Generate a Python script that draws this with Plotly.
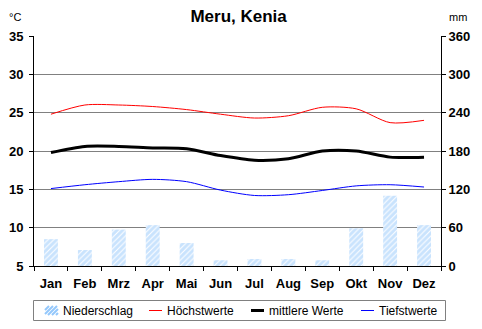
import plotly.graph_objects as go

# Monthly climate data for Meru, Kenya
months = ["Jan", "Feb", "Mrz", "Apr", "Mai", "Jun", "Jul", "Aug", "Sep", "Okt", "Nov", "Dez"]
niederschlag = [42, 25, 57, 64, 36, 9, 11, 11, 9, 59, 110, 64]          # mm
hoechstwerte = [24.8, 26.0, 26.0, 25.8, 25.4, 24.8, 24.3, 24.6, 25.7, 25.5, 23.7, 24.0]
mittlere = [19.8, 20.6, 20.6, 20.4, 20.3, 19.4, 18.8, 19.0, 20.0, 20.0, 19.2, 19.2]
tiefstwerte = [15.1, 15.6, 16.0, 16.3, 16.0, 14.9, 14.2, 14.3, 14.85, 15.45, 15.6, 15.3]

temp_ticks = [5, 10, 15, 20, 25, 30, 35]
rain_ticks = [0, 60, 120, 180, 240, 300, 360]

FONT = "Liberation Sans, Arial, sans-serif"
HATCH = "#94c8fc"

W, H = 482, 329
ML, MR, MT, MB = 34, 41, 36, 63
PW, PH = W - ML - MR, H - MT - MB


def px(x):
    """Horizontal pixel position -> paper coordinate."""
    return (x - ML) / PW


def py(y):
    """Vertical pixel position (from top) -> paper coordinate."""
    return (H - MB - y) / PH


fig = go.Figure()

fig.add_trace(go.Bar(
    x=months, y=niederschlag, name="Niederschlag", yaxis="y2",
    width=0.41,
    marker=dict(color="white", line=dict(width=0),
                pattern=dict(shape="/", fgcolor=HATCH, bgcolor="white",
                             size=4, solidity=0.75)),
))

series = [
    ("Höchstwerte", hoechstwerte, "#ff0000", 1),
    ("mittlere Werte", mittlere, "#000000", 3),
    ("Tiefstwerte", tiefstwerte, "#0000ff", 1),
]
for name, vals, color, lw in series:
    fig.add_trace(go.Scatter(
        x=months, y=vals, name=name, mode="lines",
        line=dict(color=color, width=lw, shape="spline", smoothing=0.8),
    ))

fig.update_layout(
    width=W, height=H, autosize=False,
    margin=dict(l=ML, r=MR, t=MT, b=MB, pad=0, autoexpand=False),
    paper_bgcolor="white", plot_bgcolor="white",
    font=dict(family=FONT, size=13, color="black"),
    title=dict(text="<b>Meru, Kenia</b>", x=0.495, xanchor="center",
               y=0.95, yanchor="middle", font=dict(size=17, family=FONT),
               automargin=False),
    showlegend=False,
    xaxis=dict(type="category", showline=True, linecolor="black", linewidth=1,
               ticks="outside", ticklen=4, tickcolor="black", tickson="boundaries",
               showgrid=False, tickangle=0, ticklabelstandoff=5, automargin=False,
               tickfont=dict(size=13, family=FONT, weight="bold"),
               range=[-0.5, 11.5]),
    yaxis=dict(range=[5, 35], tickvals=temp_ticks, showline=True, linecolor="black",
               linewidth=1, ticks="outside", ticklen=4, tickcolor="black",
               showgrid=True, gridcolor="#808080", gridwidth=1, zeroline=False,
               ticklabelstandoff=3, automargin=False,
               tickfont=dict(size=13, family=FONT, weight="bold")),
    yaxis2=dict(range=[0, 360], tickvals=rain_ticks, overlaying="y", side="right",
                showline=True, linecolor="black", linewidth=1, ticks="outside",
                ticklen=4, tickcolor="black", showgrid=False, zeroline=False,
                automargin=False,
                tickfont=dict(size=13, family=FONT, weight="bold")),
)

# Axis unit labels
fig.add_annotation(text="°C", xref="paper", yref="paper", x=px(7), y=py(17),
                   xanchor="left", yanchor="middle", showarrow=False,
                   font=dict(size=11, family=FONT))
fig.add_annotation(text="mm", xref="paper", yref="paper", x=px(447), y=py(17),
                   xanchor="left", yanchor="middle", showarrow=False,
                   font=dict(size=11, family=FONT))

# Legend box below the plot
fig.add_shape(type="rect", xref="paper", yref="paper",
              x0=px(33.5), x1=px(445.5), y0=py(300.5), y1=py(320.5),
              line=dict(color="#808080", width=1), fillcolor="white")

legend_y = 310.5

# Hatched swatch for precipitation
sx0, sx1, sy0, sy1 = 45, 58, 306, 315
path = []
for start in range(sx0 - 9, sx1 + 1, 4):
    # diagonal "/" from bottom-left to top-right, clipped to the swatch
    xa, ya = start, sy1
    xb, yb = start + (sy1 - sy0), sy0
    if xa < sx0:
        ya -= sx0 - xa
        xa = sx0
    if xb > sx1:
        yb += xb - sx1
        xb = sx1
    if xb > xa:
        path.append(f"M{px(xa)},{py(ya)} L{px(xb)},{py(yb)}")
fig.add_shape(type="path", xref="paper", yref="paper", path=" ".join(path),
              line=dict(color=HATCH, width=2))

legend_items = [
    ("Niederschlag", None, 0, 61),
    ("Höchstwerte", "#ff0000", 1, 165),
    ("mittlere Werte", "#000000", 3, 267),
    ("Tiefstwerte", "#0000ff", 1, 377),
]
for label, color, lw, tx in legend_items:
    if color is not None:
        fig.add_shape(type="line", xref="paper", yref="paper",
                      x0=px(tx - 16), x1=px(tx - 3), y0=py(legend_y), y1=py(legend_y),
                      line=dict(color=color, width=lw))
    fig.add_annotation(text=label, xref="paper", yref="paper", x=px(tx), y=py(legend_y),
                       xanchor="left", yanchor="middle", showarrow=False,
                       font=dict(size=12, family=FONT))

fig.write_html("out.html")
